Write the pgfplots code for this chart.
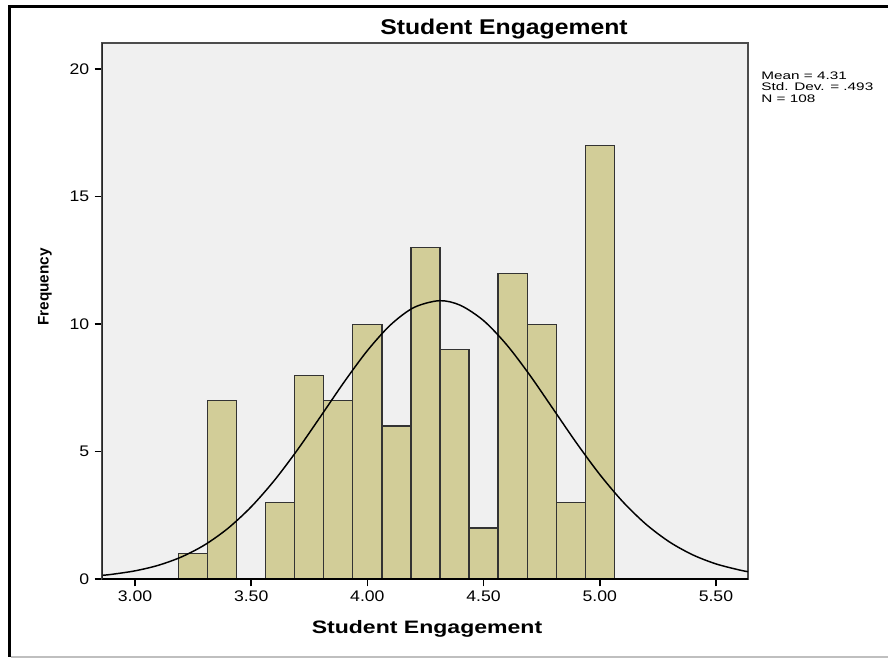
\documentclass[border=0pt]{standalone}
\usepackage{fontspec}
\setmainfont{Liberation Sans}
\usepackage{pgfplots}
\pgfplotsset{compat=1.18}
\definecolor{bgc}{RGB}{240,240,240}
\definecolor{barc}{RGB}{210,205,152}
\begin{document}
\begin{tikzpicture}[x=0.75pt,y=0.75pt]
\useasboundingbox (0,0) rectangle (888,658);
\draw[black,line width=2.2pt] (9.5,652.5) -- (9.5,1);
\draw[black,line width=1.8pt] (8.5,651.5) -- (888,651.5);
\draw[black!25,line width=1.5pt] (11,1) -- (888,1);
\begin{axis}[
  at={(76.5pt,59.25pt)}, anchor=south west,
  width=484.5pt, height=402pt, scale only axis,
  xmin=2.858, xmax=5.638, ymin=0, ymax=21.03,
  xtick={3,3.5,4,4.5,5,5.5},
  ytick={0,5,10,15,20},
  xticklabel style={/pgf/number format/.cd,fixed,fixed zerofill,precision=2},
  /pgf/number format/assume math mode=true,
  ticklabel style={font=\fontsize{11.5}{12}\selectfont, xscale=1.15},
  xtick pos=bottom, ytick pos=left,
  tick align=outside,
  major tick length=5.5pt,
  tick style={black, line width=1.2pt},
  axis line style={black!70, line width=1.3pt},
  axis background/.style={fill=bgc},
]
\addplot[ybar interval, fill=barc, draw=black!80, line width=0.9pt] coordinates {
(3.1875,1) (3.3125,7) (3.4375,0) (3.5625,3) (3.6875,8) (3.8125,7) (3.9375,10)
(4.0625,6) (4.1875,13) (4.3125,9) (4.4375,2) (4.5625,12) (4.6875,10) (4.8125,3)
(4.9375,17) (5.0625,17)
};
\addplot[black, line width=1.1pt, smooth, mark=none] coordinates {
(2.858,0.144) (2.9,0.183) (3.0,0.320) (3.1,0.537) (3.2,0.866) (3.3,1.339)
(3.4,1.988) (3.5,2.832) (3.6,3.871) (3.7,5.079) (3.8,6.395) (3.9,7.728)
(4.0,8.961) (4.1,9.973) (4.2,10.651) (4.31,10.92) (4.4,10.740) (4.5,10.138)
(4.6,9.185) (4.7,7.986) (4.8,6.663) (4.9,5.336) (5.0,4.101) (5.1,3.024)
(5.2,2.141) (5.3,1.454) (5.4,0.948) (5.5,0.593) (5.6,0.356) (5.638,0.287)
};
\draw[black, line width=1.5pt] (axis cs:2.858,0) -- (axis cs:5.638,0);
\draw[black!85, line width=1.5pt] (axis cs:2.858,0) -- (axis cs:2.858,21.03);
\end{axis}
\node[font=\bfseries\fontsize{16}{18}\selectfont, xscale=1.16] at (504,629) {Student Engagement};
\node[font=\bfseries\fontsize{13.5}{15}\selectfont, xscale=1.28] at (427,29) {Student Engagement};
\node[font=\bfseries\fontsize{11.5}{13}\selectfont, rotate=90] at (45,371) {Frequency};
\node[anchor=north west, align=left, inner sep=0pt, font=\fontsize{8.2}{8.3}\selectfont, xscale=1.4] at (761,586) {Mean = 4.31\\Std. Dev. = .493\\N = 108};
\end{tikzpicture}
\end{document}
